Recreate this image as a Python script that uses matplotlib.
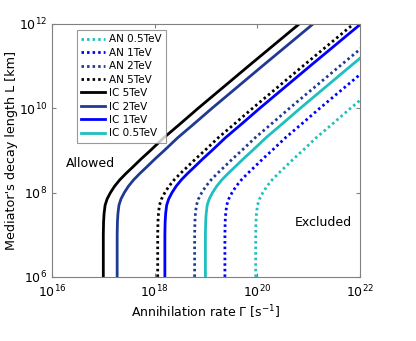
import numpy as np
import matplotlib
matplotlib.use('Agg')
import matplotlib.pyplot as plt

# log10 of decay length L [km], shared by every curve
logL = [6, 7, 7.3, 7.5, 7.7, 7.85, 8.0, 8.15, 8.3, 8.45, 8.6, 8.8, 9.0, 9.3, 9.6, 10, 11, 12]

# log10 of annihilation rate [s^-1] for each curve
an_05 = [19.97, 19.97, 19.975, 19.985, 20.005, 20.045, 20.11, 20.19, 20.29, 20.41, 20.54, 20.71, 20.89, 21.15, 21.44, 21.82, 22.80, 23.79]
an_1 = [19.37, 19.37, 19.375, 19.385, 19.405, 19.445, 19.51, 19.59, 19.69, 19.81, 19.94, 20.11, 20.29, 20.55, 20.84, 21.22, 22.20, 23.19]
an_2 = [18.78, 18.78, 18.785, 18.795, 18.815, 18.855, 18.92, 19.00, 19.10, 19.22, 19.35, 19.52, 19.70, 19.96, 20.25, 20.63, 21.61, 22.60]
an_5 = [18.06, 18.06, 18.065, 18.075, 18.095, 18.135, 18.20, 18.28, 18.38, 18.50, 18.63, 18.80, 18.98, 19.24, 19.53, 19.91, 20.89, 21.88]
ic_5 = [17.00, 17.00, 17.005, 17.015, 17.035, 17.075, 17.14, 17.22, 17.32, 17.44, 17.57, 17.74, 17.92, 18.18, 18.47, 18.85, 19.83, 20.82]
ic_2 = [17.27, 17.27, 17.275, 17.285, 17.305, 17.345, 17.41, 17.49, 17.59, 17.71, 17.84, 18.01, 18.19, 18.45, 18.74, 19.12, 20.10, 21.09]
ic_1 = [18.20, 18.20, 18.205, 18.215, 18.235, 18.275, 18.34, 18.42, 18.52, 18.64, 18.77, 18.94, 19.12, 19.38, 19.67, 20.05, 21.03, 22.02]
ic_05 = [18.99, 18.99, 18.995, 19.005, 19.025, 19.065, 19.13, 19.21, 19.31, 19.43, 19.56, 19.73, 19.91, 20.17, 20.46, 20.84, 21.82, 22.81]

cyan = '#1fbfbf'
blue = '#0000ff'
dblue = '#1f3a93'
dot = (0, (0.9, 1.1))

series = [
    (an_05, 'AN 0.5TeV', cyan, dot),
    (an_1, 'AN 1TeV', blue, dot),
    (an_2, 'AN 2TeV', dblue, dot),
    (an_5, 'AN 5TeV', 'black', dot),
    (ic_5, 'IC 5TeV', 'black', '-'),
    (ic_2, 'IC 2TeV', dblue, '-'),
    (ic_1, 'IC 1TeV', blue, '-'),
    (ic_05, 'IC 0.5TeV', cyan, '-'),
]

fig = plt.figure(figsize=(4.16, 3.41), dpi=100)
ax = fig.add_axes([0.125, 0.188, 0.740, 0.742])

L = 10.0 ** np.array(logL)
for vals, lab, col, ls in series:
    ax.plot(10.0 ** np.array(vals), L, color=col, linestyle=ls, lw=2, label=lab)

ax.set_xscale('log')
ax.set_yscale('log')
ax.set_xlim(1e16, 1e22)
ax.set_ylim(1e6, 1e12)
ax.set_xticks([1e16, 1e18, 1e20, 1e22])
ax.set_yticks([1e6, 1e8, 1e10, 1e12])
ax.minorticks_off()
ax.tick_params(direction='in', top=True, right=True, length=3, color='#808080', labelsize=9)
ax.tick_params(axis='x', pad=5)
for s in ax.spines.values():
    s.set_color('#808080')

ax.set_xlabel(r'Annihilation rate $\Gamma$ [s$^{-1}$]', fontsize=9, labelpad=2)
ax.set_ylabel("Mediator's decay length L [km]", fontsize=9.2)
ax.yaxis.set_label_coords(-0.11, 0.5)

ax.text(1.9e16, 5.0e8, 'Allowed', fontsize=9, va='center')
ax.text(5.4e20, 1.9e7, 'Excluded', fontsize=9, va='center')

leg = ax.legend(loc='upper left', bbox_to_anchor=(0.08, 0.975), fontsize=7.5,
                frameon=True, fancybox=False, edgecolor='#808080',
                labelspacing=0.33, handlelength=2.3, handletextpad=0.4,
                borderpad=0.4, borderaxespad=0)
leg.get_frame().set_linewidth(0.8)

fig.savefig('out.png', dpi=100)
